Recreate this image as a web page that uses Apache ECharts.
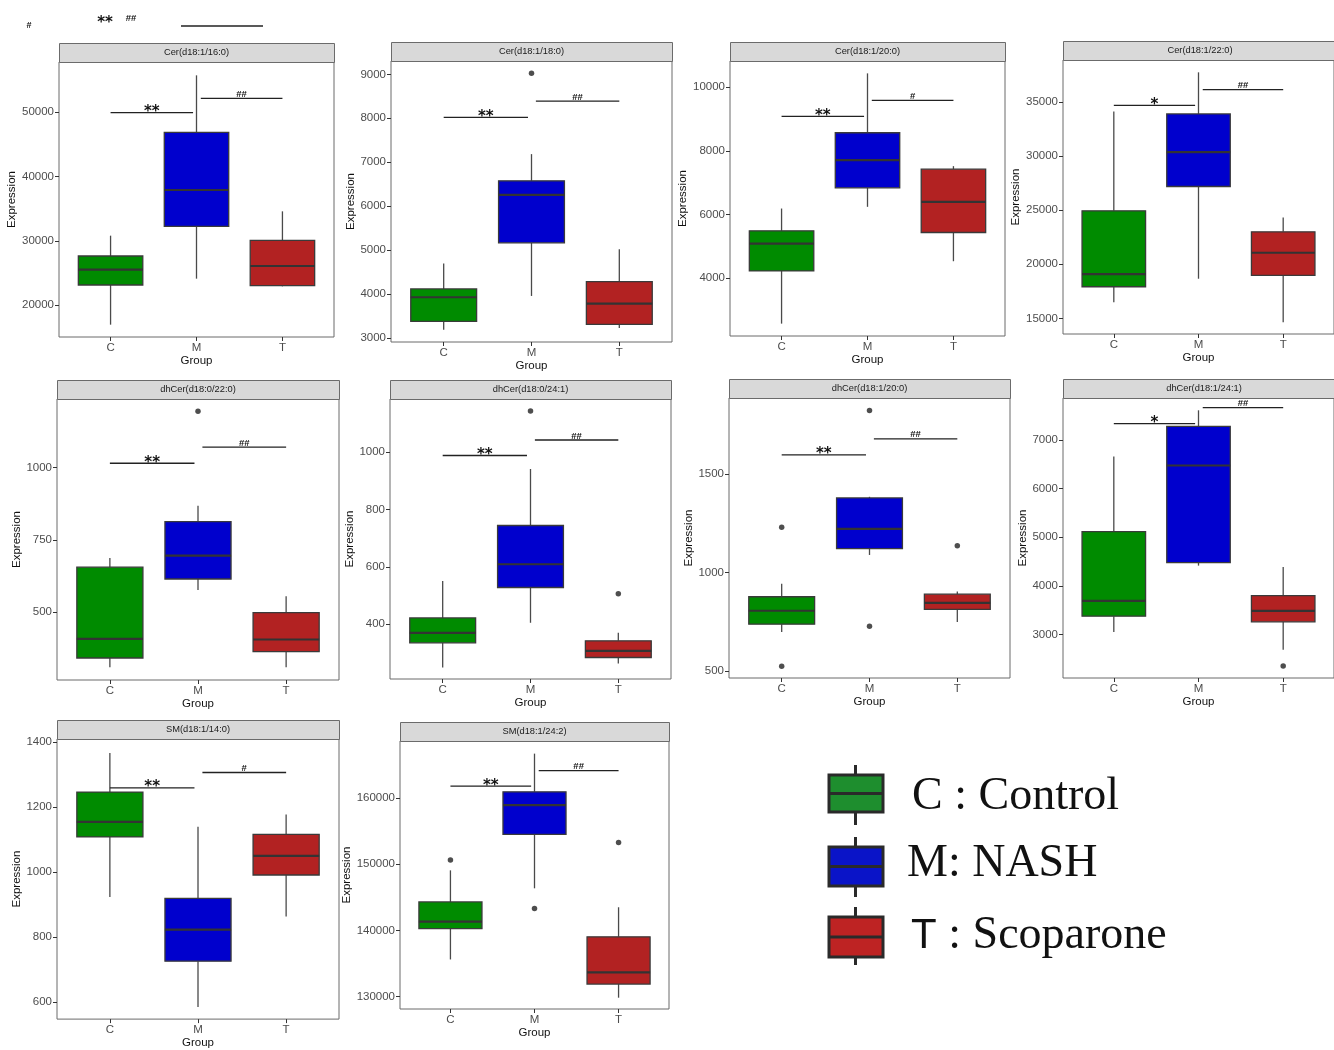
<!DOCTYPE html>
<html><head><meta charset="utf-8">
<script src="https://cdn.jsdelivr.net/npm/echarts@6/dist/echarts.min.js"></script>
<style>html,body{margin:0;padding:0;background:#fff}#c{width:1334px;height:1050px}</style>
</head><body><div id="c"></div>
<script>
// ---------- DATA ----------
const groups = ['C', 'M', 'T'];
const legendLabels = ['C : Control', 'M: NASH', 'T : Scoparone'];

// box stats per group: [lower whisker, Q1, median, Q3, upper whisker]
const titleP1 = 'Cer(d18:1/16:0)';
const boxP1 = [[16994, 23150, 25530, 27651, 30807], [24134, 32256, 37894, 46844, 55690], [22943, 23047, 26099, 30083, 34584]];
const outP1 = [];
const sigP1 = [['C', 'M', 49900, '**'], ['M', 'T', 52100, '##']];
const ticksP1 = [20000, 30000, 40000, 50000];
const rangeP1 = [15080, 57760];

const titleP2 = 'Cer(d18:1/18:0)';
const boxP2 = [[3190, 3380, 3927, 4117, 4694], [3957, 5165, 6258, 6577, 7185], [3228, 3311, 3782, 4284, 5020]];
const outP2 = [['M', 9023]];
const sigP2 = [['C', 'M', 8020, '**'], ['M', 'T', 8392, '##']];
const ticksP2 = [3000, 4000, 5000, 6000, 7000, 8000, 9000];
const rangeP2 = [2909, 9304];

const titleP3 = 'Cer(d18:1/20:0)';
const boxP3 = [[2576, 4230, 5089, 5487, 6188], [6241, 6838, 7707, 8565, 10429], [4534, 5435, 6398, 7424, 7518]];
const outP3 = [];
const sigP3 = [['C', 'M', 9079, '**'], ['M', 'T', 9581, '#']];
const ticksP3 = [4000, 6000, 8000, 10000];
const rangeP3 = [2188, 10817];

const titleP4 = 'Cer(d18:1/22:0)';
const boxP4 = [[16477, 17923, 19092, 24938, 34108], [18662, 27185, 30354, 33892, 37738], [14631, 18969, 21062, 23000, 24323]];
const outP4 = [];
const sigP4 = [['C', 'M', 34692, '*'], ['M', 'T', 36138, '##']];
const ticksP4 = [15000, 20000, 25000, 30000, 35000];
const rangeP4 = [13554, 38877];

const titleP5 = 'dhCer(d18:0/22:0)';
const boxP5 = [[310, 342, 408, 656, 688], [577, 615, 696, 813, 868], [310, 364, 406, 499, 555]];
const outP5 = [['M', 1195]];
const sigP5 = [['C', 'M', 1015, '**'], ['M', 'T', 1071, '##']];
const ticksP5 = [500, 750, 1000];
const rangeP5 = [266, 1237];

const titleP6 = 'dhCer(d18:0/24:1)';
const boxP6 = [[249, 335, 370, 422, 551], [405, 528, 609, 744, 941], [263, 284, 307, 342, 370]];
const outP6 = [['M', 1143], ['T', 506]];
const sigP6 = [['C', 'M', 988, '**'], ['M', 'T', 1042, '##']];
const ticksP6 = [400, 600, 800, 1000];
const rangeP6 = [209, 1185];

const titleP7 = 'dhCer(d18:1/20:0)';
const boxP7 = [[699, 739, 807, 878, 944], [1090, 1122, 1222, 1379, 1385], [750, 814, 847, 891, 905]];
const outP7 = [['C', 1230], ['C', 525], ['M', 1822], ['M', 729], ['T', 1137]];
const sigP7 = [['C', 'M', 1598, '**'], ['M', 'T', 1679, '##']];
const ticksP7 = [500, 1000, 1500];
const rangeP7 = [466, 1886];

const titleP8 = 'dhCer(d18:1/24:1)';
const boxP8 = [[3048, 3376, 3691, 5113, 6658], [4415, 4477, 6474, 7280, 7609], [2685, 3260, 3485, 3800, 4388]];
const outP8 = [['T', 2350]];
const sigP8 = [['C', 'M', 7335, '*'], ['M', 'T', 7663, '##']];
const ticksP8 = [3000, 4000, 5000, 6000, 7000];
const rangeP8 = [2104, 7862];

const titleP9 = 'SM(d18:1/14:0)';
const boxP9 = [[923, 1108, 1154, 1246, 1366], [585, 726, 823, 919, 1139], [863, 991, 1050, 1116, 1177]];
const outP9 = [];
const sigP9 = [['C', 'M', 1259, '**'], ['M', 'T', 1306, '#']];
const ticksP9 = [600, 800, 1000, 1200, 1400];
const rangeP9 = [548, 1409];

const titleP10 = 'SM(d18:1/24:2)';
const boxP10 = [[135591, 140272, 141329, 144298, 149079], [146361, 154514, 158943, 160956, 166744], [129804, 131867, 133629, 139014, 143493]];
const outP10 = [['C', 150639], ['M', 143291], ['T', 153307]];
const sigP10 = [['C', 'M', 161812, '**'], ['M', 'T', 164177, '##']];
const ticksP10 = [130000, 140000, 150000, 160000];
const rangeP10 = [128093, 168656];

// ---------- STYLE / LAYOUT ----------
const fills = ['#008B00', '#0000CD', '#B22222'];
const legendFills = ['#1E8E2E', '#0A14C8', '#BE2323'];
// plot-area rectangles [left, top, width, height]
const layout = [
  [59, 62, 275, 275], [391, 61, 281, 281], [730, 61, 275, 275], [1063, 60, 274, 274],
  [57, 399, 282, 281], [390, 399, 281, 280], [729, 398, 281, 280], [1063, 398, 282, 280],
  [57, 739, 282, 282], [400, 741, 269, 268]
];
const panels = [
  [titleP1, boxP1, outP1, sigP1, ticksP1, rangeP1],
  [titleP2, boxP2, outP2, sigP2, ticksP2, rangeP2],
  [titleP3, boxP3, outP3, sigP3, ticksP3, rangeP3],
  [titleP4, boxP4, outP4, sigP4, ticksP4, rangeP4],
  [titleP5, boxP5, outP5, sigP5, ticksP5, rangeP5],
  [titleP6, boxP6, outP6, sigP6, ticksP6, rangeP6],
  [titleP7, boxP7, outP7, sigP7, ticksP7, rangeP7],
  [titleP8, boxP8, outP8, sigP8, ticksP8, rangeP8],
  [titleP9, boxP9, outP9, sigP9, ticksP9, rangeP9],
  [titleP10, boxP10, outP10, sigP10, ticksP10, rangeP10]
];

const SANS = 'Liberation Sans';
const grids = [], xAxes = [], yAxes = [], series = [], graphics = [];
const gx = g => groups.indexOf(g) + 1;

panels.forEach((p, i) => {
  const [title, box, out, sig, ticks, range] = p;
  const r = layout[i];
  grids.push({ left: r[0], top: r[1], width: r[2], height: r[3], show: true,
    borderColor: '#6b6b6b', borderWidth: 1, backgroundColor: '#fff' });
  const xTicks = groups.map((g, k) => k + 1);
  xAxes.push({ gridIndex: i, type: 'value', min: 0.4, max: 3.6,
    axisLine: { show: false }, splitLine: { show: false },
    axisTick: { show: true, length: 4, lineStyle: { color: '#333' }, customValues: xTicks },
    axisLabel: { customValues: xTicks, formatter: v => groups[Math.round(v) - 1], color: '#4d4d4d',
      fontSize: 11.5, fontFamily: SANS, margin: 5 },
    name: 'Group', nameLocation: 'middle', nameGap: 17,
    nameTextStyle: { color: '#111', fontSize: 11.5, fontFamily: SANS } });
  const maxLen = Math.max(...ticks.map(t => String(t).length));
  yAxes.push({ gridIndex: i, type: 'value', min: range[0], max: range[1],
    axisLine: { show: false }, splitLine: { show: false },
    axisTick: { show: true, length: 4, lineStyle: { color: '#333' }, customValues: ticks },
    axisLabel: { customValues: ticks, formatter: v => String(v), color: '#4d4d4d', fontSize: 11.5, fontFamily: SANS, margin: 5 },
    name: 'Expression', nameLocation: 'middle', nameGap: 6.4 * maxLen + 7,
    nameTextStyle: { color: '#111', fontSize: 11.5, fontFamily: SANS } });

  // boxes
  series.push({ type: 'custom', xAxisIndex: i, yAxisIndex: i, silent: true,
    data: box.map((b, k) => [k + 1, ...b]),
    encode: { x: 0, y: [1, 2, 3, 4, 5] },
    renderItem: (params, api) => {
      const x = api.value(0);
      const pt = d => api.coord([x, api.value(d)]);
      const lo = pt(1), q1 = pt(2), md = pt(3), q3 = pt(4), hi = pt(5);
      const half = api.size([0.75, 0])[0] / 2;
      const fill = fills[params.dataIndex];
      return { type: 'group', children: [
        { type: 'line', shape: { x1: lo[0], y1: lo[1], x2: q1[0], y2: q1[1] }, style: { stroke: '#4a4a4a', lineWidth: 1.3 } },
        { type: 'line', shape: { x1: q3[0], y1: q3[1], x2: hi[0], y2: hi[1] }, style: { stroke: '#4a4a4a', lineWidth: 1.3 } },
        { type: 'rect', shape: { x: q3[0] - half, y: q3[1], width: half * 2, height: q1[1] - q3[1] },
          style: { fill: fill, stroke: '#3a3a3a', lineWidth: 1.3 } },
        { type: 'line', shape: { x1: md[0] - half, y1: md[1], x2: md[0] + half, y2: md[1] },
          style: { stroke: '#333', lineWidth: 2.2 } }
      ] };
    } });
  // outliers
  if (out.length) series.push({ type: 'scatter', xAxisIndex: i, yAxisIndex: i, silent: true,
    data: out.map(o => [gx(o[0]), o[1]]), symbol: 'circle', symbolSize: 5.5,
    itemStyle: { color: '#222' } });
  // significance bars
  series.push({ type: 'custom', xAxisIndex: i, yAxisIndex: i, silent: true,
    data: sig.map(s => [gx(s[0]) + (gx(s[0]) === 2 ? 0.05 : 0), gx(s[1]) - (gx(s[1]) === 2 ? 0.04 : 0), s[2]]),
    encode: { x: [0, 1], y: 2 },
    renderItem: (params, api) => {
      const s = sig[params.dataIndex];
      const a = api.coord([api.value(0), api.value(2)]);
      const b = api.coord([api.value(1), api.value(2)]);
      const star = s[3].indexOf('*') >= 0;
      return { type: 'group', children: [
        { type: 'line', shape: { x1: a[0], y1: a[1], x2: b[0], y2: b[1] }, style: { stroke: '#222', lineWidth: 1.3 } },
        { type: 'text', x: (a[0] + b[0]) / 2, y: a[1] + (star ? 7 : 1),
          style: { text: s[3], fill: '#111', font: star ? 'bold 15px "DejaVu Sans"' : 'bold 9.5px "Liberation Sans"',
            textAlign: 'center', textVerticalAlign: 'bottom', align: 'center', verticalAlign: 'bottom' } }
      ] };
    } });

  // facet strip
  graphics.push({ type: 'rect', left: r[0], top: r[1] - 19, shape: { width: r[2], height: 19 },
    style: { fill: '#d9d9d9', stroke: '#6b6b6b', lineWidth: 1 }, z: 10 });
  graphics.push({ type: 'text', x: r[0] + r[2] / 2, y: r[1] - 9.5,
    style: { text: title, fill: '#1a1a1a', font: '9.3px "Liberation Sans"', textAlign: 'center', textVerticalAlign: 'middle',
      align: 'center', verticalAlign: 'middle' }, z: 11 });
});

// stray marks at top-left of the original figure
graphics.push({ type: 'text', x: 29, y: 26, style: { text: '#', fill: '#111', font: 'bold 9px "Liberation Sans"', textAlign: 'center', textVerticalAlign: 'middle', align: 'center', verticalAlign: 'middle' } });
graphics.push({ type: 'text', x: 105, y: 23, style: { text: '**', fill: '#111', font: 'bold 15px "DejaVu Sans"', textAlign: 'center', textVerticalAlign: 'middle', align: 'center', verticalAlign: 'middle' } });
graphics.push({ type: 'text', x: 131, y: 18, style: { text: '##', fill: '#111', font: 'bold 9.5px "Liberation Sans"', textAlign: 'center', textVerticalAlign: 'middle', align: 'center', verticalAlign: 'middle' } });
graphics.push({ type: 'line', shape: { x1: 181, y1: 26, x2: 263, y2: 26 }, style: { stroke: '#222', lineWidth: 1.3 } });

// legend
const legendY = [[765, 775, 812, 825, 797], [837, 847, 886, 897, 864], [907, 917, 957, 965, 936]];
const legendTextX = [912, 907, 911];
legendLabels.forEach((lab, k) => {
  const [w0, b0, b1, w1, ty] = legendY[k];
  graphics.push({ type: 'line', shape: { x1: 855.5, y1: w0, x2: 855.5, y2: w1 }, style: { stroke: '#2a2a2a', lineWidth: 3 } });
  graphics.push({ type: 'rect', shape: { x: 829, y: b0, width: 54, height: b1 - b0 }, style: { fill: legendFills[k], stroke: '#2a2a2a', lineWidth: 3 } });
  graphics.push({ type: 'line', shape: { x1: 829, y1: (b0 + b1) / 2, x2: 883, y2: (b0 + b1) / 2 }, style: { stroke: '#2a2a2a', lineWidth: 3 } });
  const parts = lab.split(':');
  graphics.push({ type: 'text', x: legendTextX[k], y: ty,
    style: { text: '{g|' + parts[0] + '}:' + parts[1], fill: '#111', font: '46px "Liberation Serif"',
      textVerticalAlign: 'middle', verticalAlign: 'middle',
      rich: { g: { fontFamily: k === 2 ? 'Liberation Sans' : 'Liberation Serif', fontSize: k === 2 ? 42 : 46, fill: '#111' } } } });
});

const chart = echarts.init(document.getElementById('c'), null, { renderer: 'canvas' });
chart.setOption({
  animation: false,
  backgroundColor: '#fff',
  grid: grids, xAxis: xAxes, yAxis: yAxes, series: series, graphic: graphics
});
</script>
</body></html>
